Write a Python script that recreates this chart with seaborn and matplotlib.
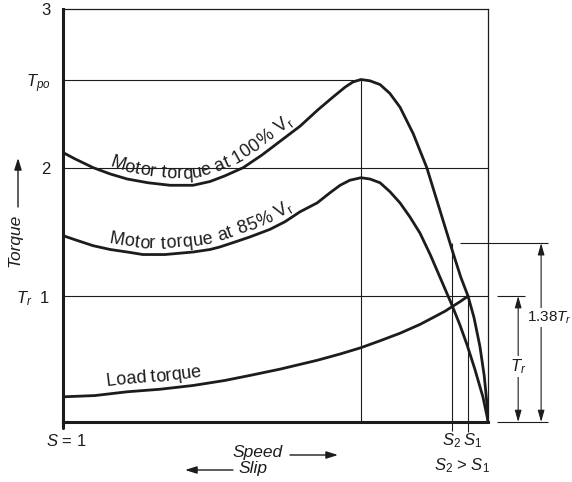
import matplotlib

matplotlib.use("Agg")
import matplotlib.pyplot as plt
import numpy as np
import seaborn as sns
from matplotlib.font_manager import FontProperties
from matplotlib.transforms import IdentityTransform

# speed as a fraction of synchronous speed (0 = standstill, S = 1), torque in units of T_r
X_100 = [0.000, 0.028, 0.071, 0.111, 0.151, 0.200, 0.252, 0.306, 0.346, 0.381, 0.424,
         0.468, 0.511, 0.558, 0.600, 0.635, 0.664, 0.682, 0.701, 0.722, 0.746, 0.769,
         0.793, 0.824, 0.856, 0.887, 0.918, 0.936, 0.953, 0.967, 0.981, 0.991, 0.998, 1.0]
T_100 = [2.14, 2.09, 2.02, 1.97, 1.93, 1.90, 1.88, 1.88, 1.91, 1.955, 2.02,
         2.12, 2.23, 2.35, 2.48, 2.58, 2.66, 2.70, 2.72, 2.71, 2.68, 2.61,
         2.50, 2.29, 2.02, 1.68, 1.34, 1.15, 1.00, 0.83, 0.60, 0.37, 0.13, 0.01]

X_85 = [0.000, 0.035, 0.071, 0.111, 0.151, 0.188, 0.240, 0.306, 0.346, 0.369, 0.405,
        0.440, 0.487, 0.522, 0.558, 0.598, 0.628, 0.652, 0.675, 0.701, 0.722, 0.746,
        0.769, 0.793, 0.816, 0.840, 0.864, 0.887, 0.901, 0.915, 0.934, 0.951, 0.969, 0.988, 1.0]
T_85 = [1.48, 1.44, 1.40, 1.37, 1.35, 1.33, 1.33, 1.35, 1.37, 1.39, 1.43,
        1.47, 1.53, 1.59, 1.67, 1.74, 1.82, 1.88, 1.92, 1.94, 1.93, 1.90,
        1.83, 1.74, 1.63, 1.50, 1.33, 1.15, 1.04, 0.93, 0.77, 0.61, 0.42, 0.20, 0.01]

X_LOAD = [0.000, 0.075, 0.151, 0.228, 0.306, 0.381, 0.440, 0.511, 0.598, 0.652,
          0.701, 0.746, 0.793, 0.840, 0.871, 0.899, 0.915, 0.934, 0.953]
T_LOAD = [0.20, 0.21, 0.24, 0.26, 0.29, 0.33, 0.37, 0.42, 0.49, 0.54,
          0.59, 0.645, 0.705, 0.775, 0.83, 0.88, 0.915, 0.955, 1.00]

X_PEAK = 0.701
T_PO = 2.72
S2, S1 = 0.915, 0.953
T_138 = 1.42
Y_TICKS = [1.0, 2.02, T_PO, 3.28]
Y_LABELS = ["$T_r$  1", "2", "$T_{po}$", "3"]
SLIP_LABELS = [(0.007, "$S$ = 1"), (0.914, "$S_2$"), (0.963, "$S_1$")]

INK = "#1c1c1c"
FONT = "Liberation Sans"

sns.set_style("white")
plt.rcParams["font.family"] = [FONT, "DejaVu Sans"]
plt.rcParams["mathtext.fontset"] = "custom"
plt.rcParams["mathtext.rm"] = FONT
plt.rcParams["mathtext.it"] = FONT + ":italic"
plt.rcParams["text.color"] = INK


def curved_label(ax, xs, ys, pieces, x_start, gap, size, track=0.0):
    """Write text letter by letter along a curve (x_start in figure pixels)."""
    fig = ax.figure
    r = fig.canvas.get_renderer()
    pts = ax.transData.transform(np.column_stack([xs, ys]))
    s = np.concatenate([[0], np.cumsum(np.hypot(*np.diff(pts, axis=0).T))])

    def at(si):
        return np.interp(si, s, pts[:, 0]), np.interp(si, s, pts[:, 1])

    def width(txt, prop):
        return r.get_text_width_height_descent(txt, prop, ismath=False)[0]

    pos = np.interp(x_start, pts[:, 0], s)
    for txt, scale, shift in pieces:
        prop = FontProperties(family=FONT, size=size * scale)
        ref = width("l", prop)
        for i, ch in enumerate(txt):
            if ch == " ":
                continue
            start = (width(txt[:i] + "l", prop) - ref if i else 0) + track * i
            c = pos + start + width(ch, prop) / 2
            (x0, y0), (x1, y1) = at(c - 12), at(c + 12)
            ang = np.arctan2(y1 - y0, x1 - x0)
            x, y = at(c)
            off = gap + shift
            fig.text(x - np.sin(ang) * off, y + np.cos(ang) * off, ch, fontproperties=prop,
                     rotation=np.degrees(ang), rotation_mode="anchor", ha="center",
                     va="baseline", transform=IdentityTransform(), color=INK)
        pos += width(txt + "l", prop) - ref + track * len(txt)


fig = plt.figure(figsize=(5.72, 4.82), dpi=100)
ax = fig.add_axes([63 / 572, 60 / 482, 425 / 572, 413 / 482])
ax.set_xlim(0, 1)
ax.set_ylim(0, 3.28)

# reference lines
ax.hlines([2.02, 1.0], 0, 1, color=INK, lw=0.8)
ax.hlines(T_PO, 0, X_PEAK, color=INK, lw=0.8)
ax.vlines(X_PEAK, 0, T_PO, color=INK, lw=0.8)
ax.vlines(S2, -0.07, T_138, color=INK, lw=0.8, clip_on=False)
ax.vlines(S1, -0.08, 1.0, color=INK, lw=0.8, clip_on=False)
ax.plot([0, 0], [-0.05, 0], color=INK, lw=2.2, clip_on=False)

for xs, ys in [(X_100, T_100), (X_85, T_85), (X_LOAD, T_LOAD)]:
    sns.lineplot(x=xs, y=ys, ax=ax, color=INK, lw=2.0, sort=False, estimator=None,
                 solid_joinstyle="round", solid_capstyle="round")

for side in ["left", "bottom"]:
    ax.spines[side].set_linewidth(2.2)
for side in ["top", "right"]:
    ax.spines[side].set_linewidth(0.9)
for sp in ax.spines.values():
    sp.set_color(INK)

ax.set_yticks(Y_TICKS, Y_LABELS)
ax.set_xticks([])
ax.tick_params(axis="y", direction="out", length=6, width=0.9, colors=INK, labelsize=12, pad=3)
for xv, lab in SLIP_LABELS:
    ax.text(xv, -0.045, lab, transform=ax.get_xaxis_transform(), ha="center", va="center",
            fontsize=12, clip_on=False)

# dimension lines on the right
ax.hlines(T_138, 0.934, 1.141, color=INK, lw=0.8, clip_on=False)
ax.hlines(1.0, 1.021, 1.087, color=INK, lw=0.8, clip_on=False)
ax.hlines(0.0, 1.021, 1.141, color=INK, lw=0.8, clip_on=False)
arrow = dict(arrowstyle="<|-|>,head_length=0.7,head_width=0.2", color=INK, lw=0.8,
             shrinkA=0, shrinkB=0)
ax.annotate("", xy=(1.071, 1.0), xytext=(1.071, 0.0), arrowprops=arrow, annotation_clip=False)
ax.annotate("", xy=(1.125, T_138), xytext=(1.125, 0.0), arrowprops=arrow, annotation_clip=False)
box = dict(fc="white", ec="none", pad=1)
ax.text(1.071, 0.44, "$T_r$", ha="center", va="center", fontsize=12, bbox=box, clip_on=False)
ax.text(1.091, 0.83, "1.38$T_r$", ha="left", va="center", fontsize=11, bbox=box, clip_on=False)

# curve labels
fig.canvas.draw()
curved_label(ax, X_100, T_100, [("Motor torque at 100% V", 1, 0), ("r", 0.7, -3)],
             107, 7, 13, track=0.6)
curved_label(ax, X_85, T_85, [("Motor torque at 85% V", 1, 0), ("r", 0.7, -3)],
             107, 6, 13, track=0.6)
curved_label(ax, X_LOAD, T_LOAD, [("Load torque", 1, 0)], 107, 8, 13)

# axis captions with arrows
px = "figure pixels"
head = dict(arrowstyle="-|>,head_length=0.7,head_width=0.22", color=INK, lw=1.0,
            shrinkA=0, shrinkB=0)
fig.text(258, 482 - 452, "Speed", transform=IdentityTransform(), style="italic",
         fontsize=12.5, ha="center", va="center")
ax.annotate("", xy=(338, 482 - 455), xytext=(290, 482 - 455), xycoords=px, textcoords=px,
            arrowprops=head)
fig.text(253, 482 - 468, "Slip", transform=IdentityTransform(), style="italic",
         fontsize=12.5, ha="center", va="center")
ax.annotate("", xy=(185, 482 - 470), xytext=(233, 482 - 470), xycoords=px, textcoords=px,
            arrowprops=head)
fig.text(462, 482 - 466, "$S_2$ > $S_1$", transform=IdentityTransform(), fontsize=12,
         ha="center", va="center")
fig.text(15, 482 - 240, "Torque", transform=IdentityTransform(), style="italic",
         fontsize=12.5, ha="center", va="center", rotation=90)
ax.annotate("", xy=(18, 482 - 158), xytext=(18, 482 - 207), xycoords=px, textcoords=px,
            arrowprops=head)

fig.savefig("out.png", dpi=100, facecolor="white")
